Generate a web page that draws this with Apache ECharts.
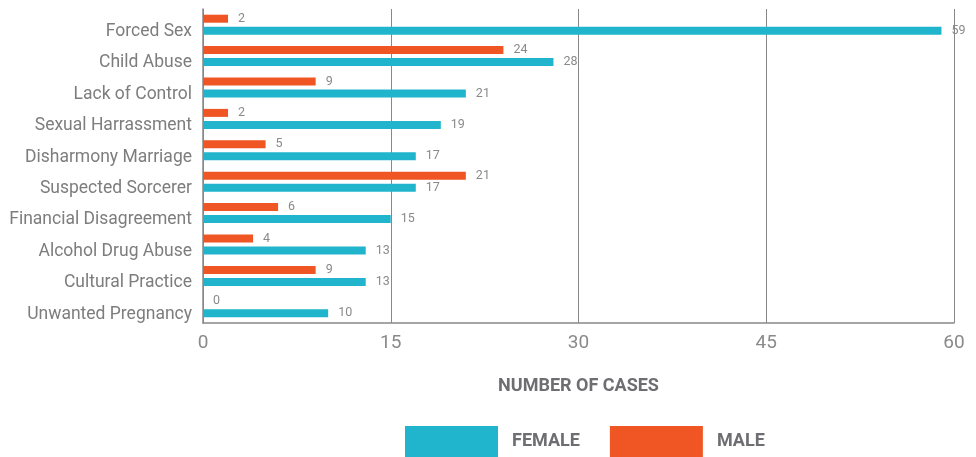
<!DOCTYPE html>
<html><head><meta charset="utf-8">
<script src="https://cdn.jsdelivr.net/npm/echarts@6/dist/echarts.min.js"></script>
<style>html,body{margin:0;padding:0;background:#fff}#c{width:976px;height:457px}</style>
</head><body><div id="c"></div>
<script>
var categories = ["Forced Sex","Child Abuse","Lack of Control","Sexual Harrassment","Disharmony Marriage","Suspected Sorcerer","Financial Disagreement","Alcohol Drug Abuse","Cultural Practice","Unwanted Pregnancy"];
var female = [59,28,21,19,17,17,15,13,13,10];
var male = [2,24,9,2,5,21,6,4,9,0];
var xTicks = [0,15,30,45,60];

var chart = echarts.init(document.getElementById('c'));
var lbl = {show:true, position:'right', distance:10, color:'#8a8a8a', fontSize:12.5, fontFamily:'Roboto'};
chart.setOption({
  animation:false,
  grid:{left:203, right:22, top:9, bottom:134},
  legend:{
    bottom:-5, left:400, itemWidth:93, itemHeight:31, itemGap:30,
    icon:'rect',
    data:['FEMALE','MALE'],
    textStyle:{color:'#6d6d72', fontSize:18, fontWeight:'bold', fontFamily:'Roboto', padding:[0,0,0,9]}
  },
  xAxis:{
    type:'value', min:xTicks[0], max:xTicks[xTicks.length-1], interval:15,
    name:'NUMBER OF CASES', nameLocation:'middle', nameGap:54,
    nameTextStyle:{color:'#6d6d72', fontSize:18, fontWeight:'bold', fontFamily:'Roboto'},
    axisLine:{show:true, lineStyle:{color:'#888', width:1.5}},
    axisTick:{show:false},
    axisLabel:{color:'#8a8a8a', fontSize:19, margin:11, fontFamily:'Roboto'},
    splitLine:{show:true, lineStyle:{color:'#888', width:1}}
  },
  yAxis:{
    type:'category', data:categories, inverse:true,
    axisLine:{show:true, lineStyle:{color:'#888', width:1.5}},
    axisTick:{show:false},
    axisLabel:{color:'#7d7d7d', fontSize:17.5, margin:11, fontFamily:'Roboto', verticalAlign:'top', lineHeight:14}
  },
  series:[
    {name:'MALE', type:'bar', data:male, barWidth:8, barGap:'50%', itemStyle:{color:'#f05623'}, label:lbl},
    {name:'FEMALE', type:'bar', data:female, barWidth:8, barGap:'50%', itemStyle:{color:'#20b5cd'}, label:lbl}
  ]
});
</script></body></html>
